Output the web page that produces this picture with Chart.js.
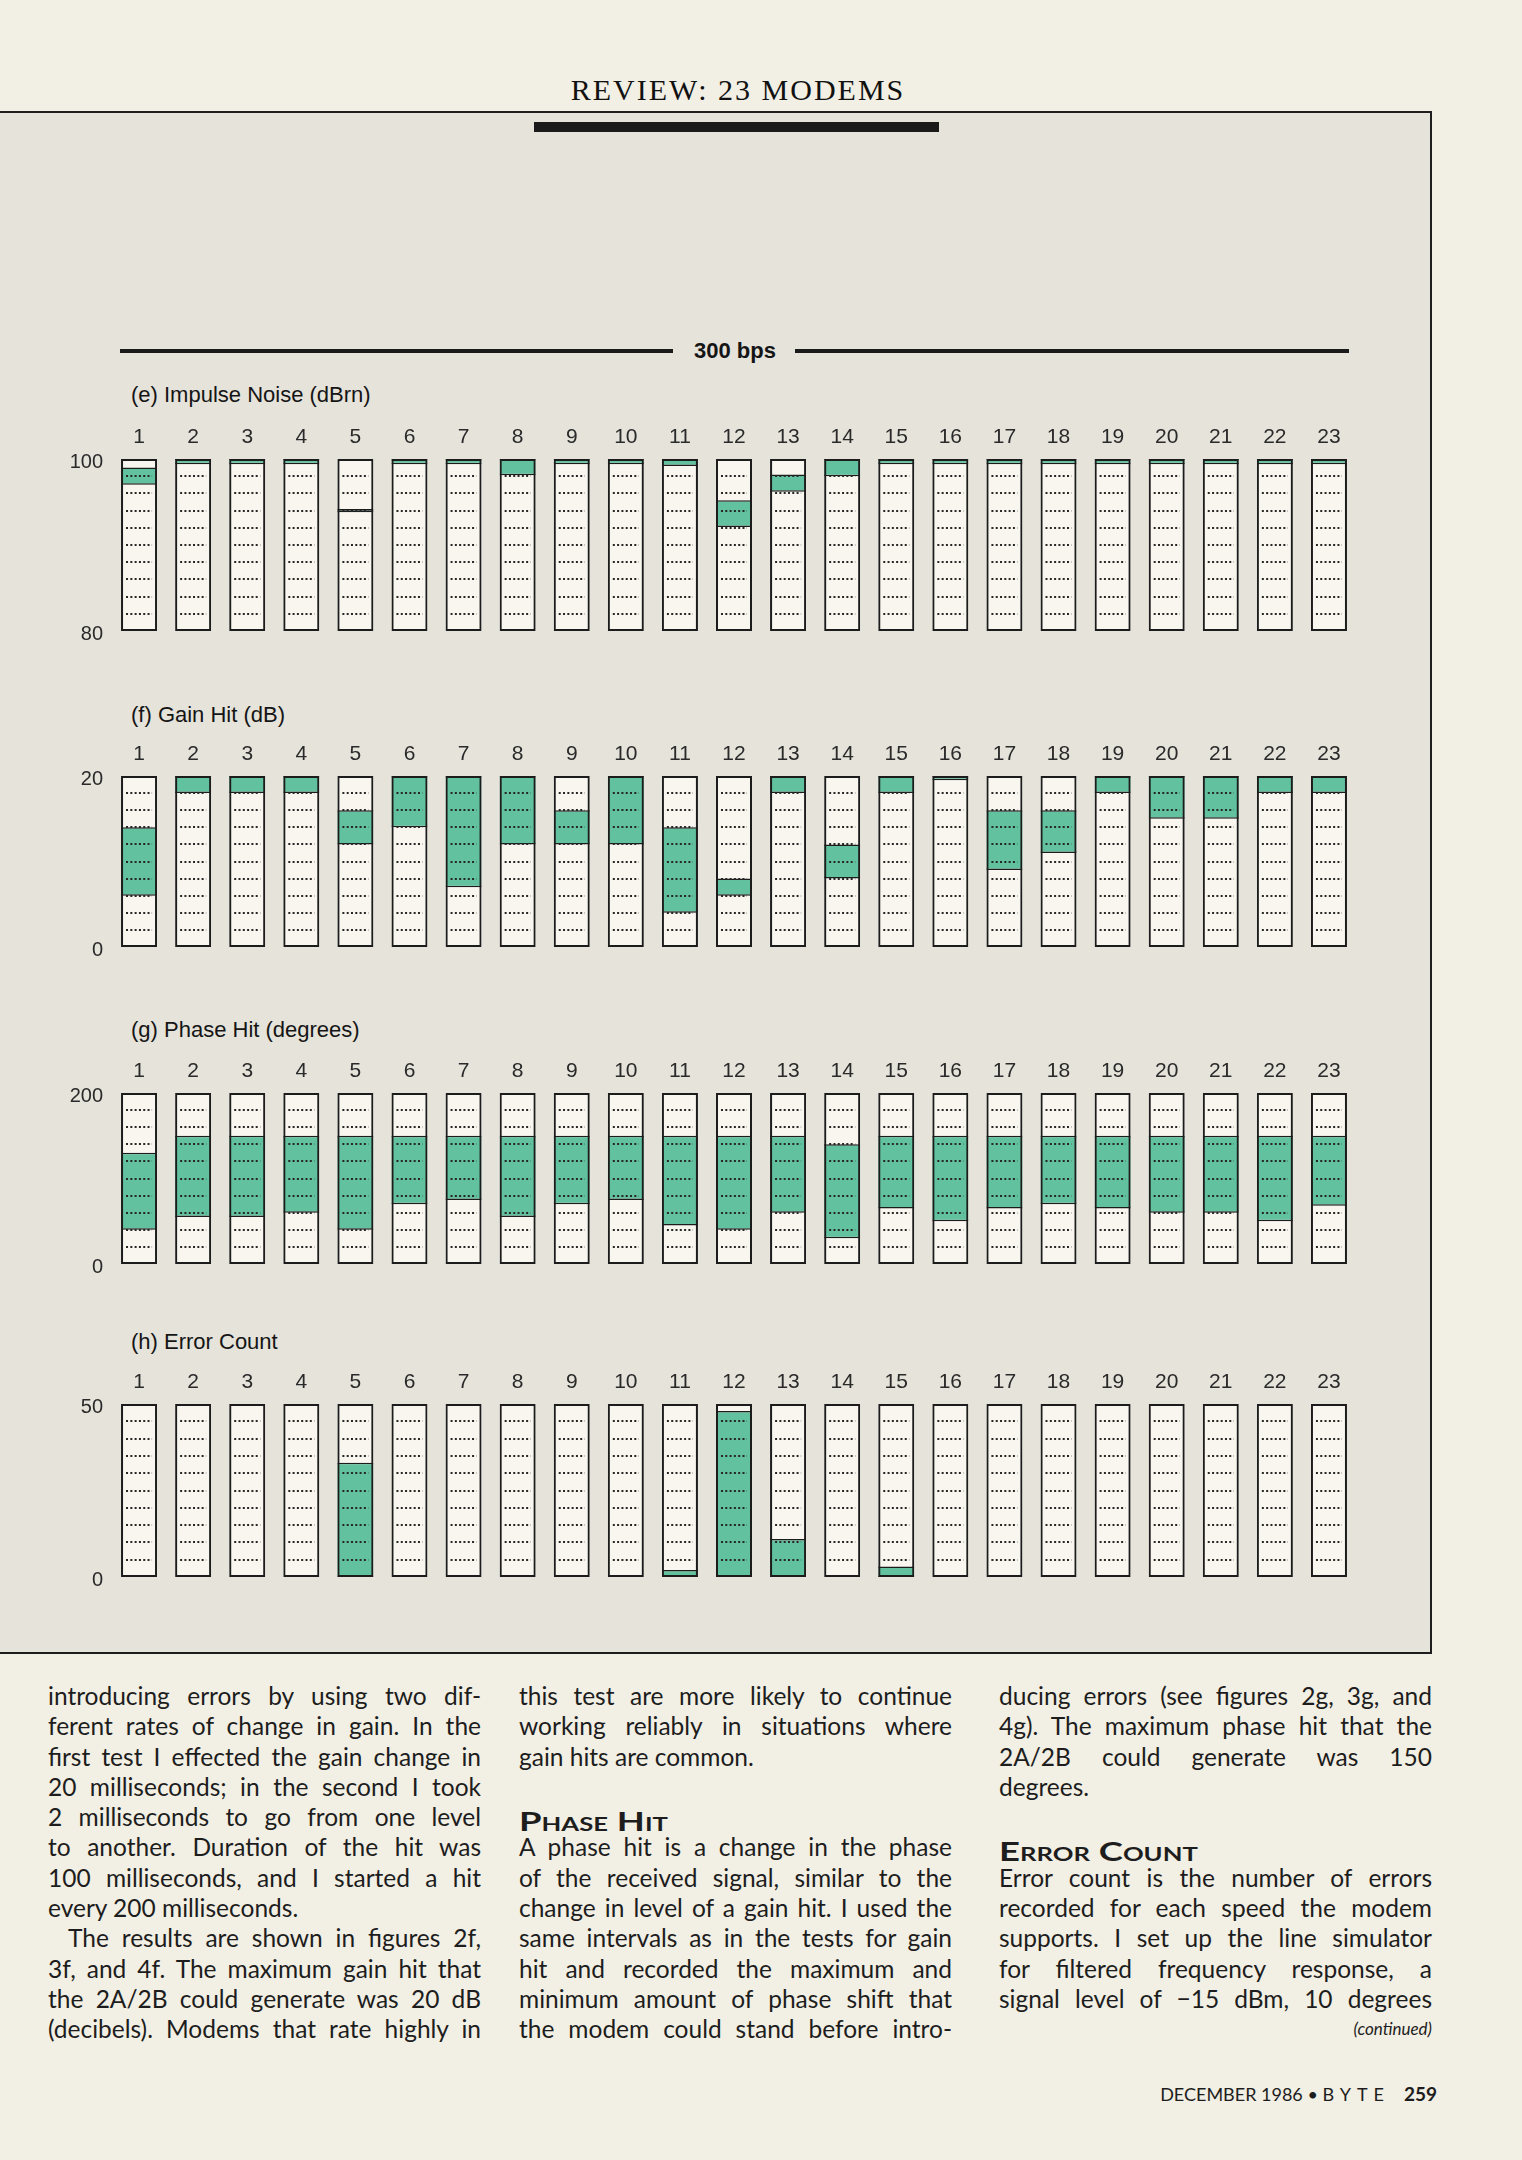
<!DOCTYPE html>
<html>
<head>
<meta charset="utf-8">
<title>Review: 23 Modems - 300 bps</title>
<script src="https://cdn.jsdelivr.net/npm/chart.js@4.4.0/dist/chart.umd.min.js"></script>
<style>
html, body { margin: 0; padding: 0; }
body { width: 1522px; height: 2160px; position: relative; overflow: hidden; background: #f2efe4; color: #1c1c1c; font-family: "Liberation Sans", Arial, sans-serif; }
.hdr { position: absolute; left: 538px; width: 400px; top: 75px; line-height: 30px; text-align: center; font-family: "Liberation Serif", serif; font-size: 30px; letter-spacing: 2px; color: #111; }
.panel { position: absolute; left: 0; top: 111px; width: 1432px; height: 1543px; box-sizing: border-box; background: #e5e3da; border-top: 2px solid #1e1e1e; border-right: 2px solid #1e1e1e; border-bottom: 2px solid #1e1e1e; }
.thick { position: absolute; left: 534px; top: 122px; width: 405px; height: 10px; background: #1a1a1a; }
.rule { position: absolute; top: 349px; height: 4px; background: #1a1a1a; }
.bps { position: absolute; left: 694px; top: 340px; line-height: 22px; font-size: 22px; font-weight: bold; color: #151515; }
.ttl { position: absolute; left: 131px; line-height: 22px; font-size: 22px; color: #151515; }
canvas { position: absolute; left: 40px; }
.col { position: absolute; top: 1681px; width: 433px; font-family: Lato, "Open Sans", sans-serif; font-size: 24.5px; color: #1d1d1d; }
.ln { height: 30.3px; line-height: 30.3px; white-space: nowrap; }
.ln.i { padding-left: 20px; }
.hd { font-weight: bold; font-variant: small-caps; font-size: 27px; }
.hd span { display: inline-block; position: relative; top: 4px; transform: scaleX(1.35); transform-origin: left center; }
.cont { text-align: right; font-style: italic; font-size: 17px; }
.foot { position: absolute; right: 85px; top: 2084px; line-height: 20px; font-family: Lato, "Open Sans", sans-serif; font-size: 18px; color: #1d1d1d; }
.foot .b { letter-spacing: 6px; }
.foot b { margin-left: 14px; font-size: 19px; }
</style>
</head>
<body>
<div class="hdr">REVIEW: 23 MODEMS</div>
<div class="panel"></div>
<div class="thick"></div>
<div class="rule" style="left:120px;width:553px"></div>
<div class="bps">300 bps</div>
<div class="rule" style="left:795px;width:554px"></div>

<div class="ttl" style="top:384px">(e) Impulse Noise (dBrn)</div>
<div class="ttl" style="top:704px">(f) Gain Hit (dB)</div>
<div class="ttl" style="top:1019px">(g) Phase Hit (degrees)</div>
<div class="ttl" style="top:1331px">(h) Error Count</div>

<canvas id="cE"></canvas>
<canvas id="cF"></canvas>
<canvas id="cG"></canvas>
<canvas id="cH"></canvas>

<div class="col" style="left:48px">
  <div class="ln j"><span>introducing errors by using two dif-</span></div>
  <div class="ln j"><span>ferent rates of change in gain. In the</span></div>
  <div class="ln j"><span>first test I effected the gain change in</span></div>
  <div class="ln j"><span>20 milliseconds; in the second I took</span></div>
  <div class="ln j"><span>2 milliseconds to go from one level</span></div>
  <div class="ln j"><span>to another. Duration of the hit was</span></div>
  <div class="ln j"><span>100 milliseconds, and I started a hit</span></div>
  <div class="ln"><span>every 200 milliseconds.</span></div>
  <div class="ln j i"><span>The results are shown in figures 2f,</span></div>
  <div class="ln j"><span>3f, and 4f. The maximum gain hit that</span></div>
  <div class="ln j"><span>the 2A/2B could generate was 20 dB</span></div>
  <div class="ln j"><span>(decibels). Modems that rate highly in</span></div>
</div>
<div class="col" style="left:519px">
  <div class="ln j"><span>this test are more likely to continue</span></div>
  <div class="ln j"><span>working reliably in situations where</span></div>
  <div class="ln"><span>gain hits are common.</span></div>
  <div class="ln"></div>
  <div class="ln hd"><span>Phase Hit</span></div>
  <div class="ln j"><span>A phase hit is a change in the phase</span></div>
  <div class="ln j"><span>of the received signal, similar to the</span></div>
  <div class="ln j"><span>change in level of a gain hit. I used the</span></div>
  <div class="ln j"><span>same intervals as in the tests for gain</span></div>
  <div class="ln j"><span>hit and recorded the maximum and</span></div>
  <div class="ln j"><span>minimum amount of phase shift that</span></div>
  <div class="ln j"><span>the modem could stand before intro-</span></div>
</div>
<div class="col" style="left:999px">
  <div class="ln j"><span>ducing errors (see figures 2g, 3g, and</span></div>
  <div class="ln j"><span>4g). The maximum phase hit that the</span></div>
  <div class="ln j"><span>2A/2B could generate was 150</span></div>
  <div class="ln"><span>degrees.</span></div>
  <div class="ln"></div>
  <div class="ln hd"><span>Error Count</span></div>
  <div class="ln j"><span>Error count is the number of errors</span></div>
  <div class="ln j"><span>recorded for each speed the modem</span></div>
  <div class="ln j"><span>supports. I set up the line simulator</span></div>
  <div class="ln j"><span>for filtered frequency response, a</span></div>
  <div class="ln j"><span>signal level of −15 dBm, 10 degrees</span></div>
  <div class="ln cont"><span>(continued)</span></div>
</div>
<div class="foot">DECEMBER 1986 • <span class="b">BYTE</span><b>259</b></div>

<script>
// modem numbers across the top of every panel
const modems = ['1','2','3','4','5','6','7','8','9','10','11','12','13','14','15','16','17','18','19','20','21','22','23'];

// (e) impulse noise, dBrn: low / high end of the green band
const impulseLow  = [97, 99.4, 99.4, 99.4, 93.8, 99.4, 99.4, 98.1, 99.4, 99.4, 99.2, 92.1, 96.2, 98, 99.4, 99.4, 99.4, 99.4, 99.4, 99.4, 99.4, 99.4, 99.4];
const impulseHigh = [99, 100, 100, 100, 94.2, 100, 100, 100, 100, 100, 100, 95.2, 98.2, 100, 100, 100, 100, 100, 100, 100, 100, 100, 100];

// (f) gain hit, dB
const gainLow  = [6, 18, 18, 18, 12, 14, 7, 12, 12, 12, 4, 6, 18, 8, 18, 19.5, 9, 11, 18, 15, 15, 18, 18];
const gainHigh = [14, 20, 20, 20, 16, 20, 20, 20, 16, 20, 14, 8, 20, 12, 20, 20, 16, 16, 20, 20, 20, 20, 20];

// (g) phase hit, degrees
const phaseLow  = [40, 55, 55, 60, 40, 70, 75, 55, 70, 75, 45, 40, 60, 30, 65, 50, 65, 70, 65, 60, 60, 50, 68];
const phaseHigh = [130, 150, 150, 150, 150, 150, 150, 150, 150, 150, 150, 150, 150, 140, 150, 150, 150, 150, 150, 150, 150, 150, 150];

// (h) error count
const errorCount = [0, 0, 0, 0, 33, 0, 0, 0, 0, 0, 2, 48, 11, 0, 3, 0, 0, 0, 0, 0, 0, 0, 0];

// axis ranges [min, max, dotted step]
const impulseAxis = [80, 100, 2];
const gainAxis    = [0, 20, 2];
const phaseAxis   = [0, 200, 20];
const errorAxis   = [0, 50, 5];

const INK = '#1c1c1c';
const GREEN = '#62c29f';
const BOX = '#f8f6ef';
const AXIS_H = 39, PAD_B = 14;

// dotted lines inside every box, one per step of the value axis
const dotGrid = {
  id: 'dotGrid',
  afterDatasetsDraw(chart, args, o) {
    const ctx = chart.ctx, y = chart.scales.y;
    const meta = chart.getDatasetMeta(2);
    ctx.save();
    ctx.strokeStyle = '#262626';
    ctx.lineWidth = 2;
    ctx.setLineDash([2, 2.3]);
    for (let v = o.min + o.step; v < o.max - 1e-9; v += o.step) {
      const py = Math.round(y.getPixelForValue(v));
      meta.data.forEach(bar => {
        ctx.beginPath();
        ctx.moveTo(bar.x - bar.width / 2 + 5, py);
        ctx.lineTo(bar.x + bar.width / 2 - 5, py);
        ctx.stroke();
      });
    }
    ctx.restore();
  }
};

function panel(id, boxTop, boxBottom, bands, axis) {
  const [min, max, step] = axis;
  const cv = document.getElementById(id);
  cv.width = 1316;
  cv.height = boxBottom - boxTop + AXIS_H + PAD_B;
  cv.style.top = (boxTop - AXIS_H) + 'px';
  const full = modems.map(() => [min, max]);
  new Chart(cv, {
    type: 'bar',
    data: {
      labels: modems,
      datasets: [
        { data: bands, backgroundColor: GREEN, borderColor: INK, borderWidth: { top: 1.5, bottom: 1.5, left: 0, right: 0 }, borderSkipped: false, grouped: false, order: 1 },
        { data: full, backgroundColor: BOX, borderWidth: 0, grouped: false, order: 2 },
        { data: full, backgroundColor: 'rgba(0,0,0,0)', borderColor: INK, borderWidth: 2, borderSkipped: false, grouped: false, order: 0 }
      ]
    },
    options: {
      responsive: false,
      animation: false,
      events: [],
      layout: { autoPadding: false, padding: { top: 0, left: 0, right: 0, bottom: PAD_B } },
      datasets: { bar: { barPercentage: 0.666, categoryPercentage: 1 } },
      plugins: { legend: { display: false }, tooltip: { enabled: false }, dotGrid: { min, max, step } },
      scales: {
        x: {
          position: 'top',
          grid: { display: false, drawTicks: false },
          border: { display: false },
          ticks: { padding: 9, maxRotation: 0, autoSkip: false, color: '#2a2a2a', font: { family: 'Liberation Sans', size: 21 } },
          afterFit: s => { s.height = AXIS_H; }
        },
        y: {
          min, max,
          grid: { display: false, drawTicks: false },
          border: { display: false },
          ticks: { padding: 9, labelOffset: 3, color: '#2a2a2a', font: { family: 'Liberation Sans', size: 20 } },
          afterBuildTicks: s => { s.ticks = [{ value: min }, { value: max }]; },
          afterFit: s => { s.width = 72; }
        }
      }
    },
    plugins: [dotGrid]
  });
}

panel('cE', 459, 638, impulseLow.map((v, i) => [v, impulseHigh[i]]), impulseAxis);
panel('cF', 776, 954, gainLow.map((v, i) => [v, gainHigh[i]]), gainAxis);
panel('cG', 1093, 1271, phaseLow.map((v, i) => [v, phaseHigh[i]]), phaseAxis);
panel('cH', 1404, 1584, errorCount.map(v => v ? [0, v] : null), errorAxis);

// justify the text lines the way the page sets them
function justify() {
  document.querySelectorAll('.col').forEach(col => {
    const W = col.clientWidth;
    col.querySelectorAll('.ln.j').forEach(ln => {
      const sp = ln.firstElementChild;
      sp.style.wordSpacing = '0px';
      const indent = ln.classList.contains('i') ? 20 : 0;
      const nat = sp.getBoundingClientRect().width;
      const gaps = (sp.textContent.match(/ /g) || []).length;
      if (gaps) sp.style.wordSpacing = ((W - indent - nat) / gaps) + 'px';
    });
  });
}
justify();
if (document.fonts && document.fonts.ready) document.fonts.ready.then(justify);
</script>
</body>
</html>
